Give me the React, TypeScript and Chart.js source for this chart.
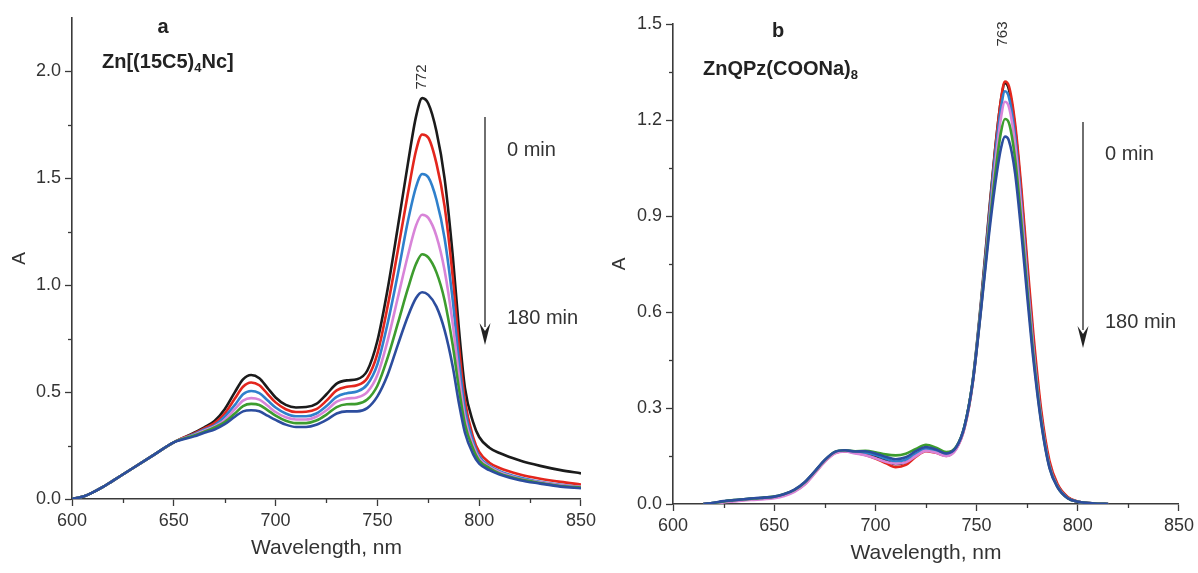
import { useEffect, useRef } from "react";
import { Chart, registerables } from "chart.js";
Chart.register(...registerables);

// ---------------- data ----------------
const SERIES_NAMES = ["spectrum 1 (0 min)", "spectrum 2", "spectrum 3", "spectrum 4", "spectrum 5", "spectrum 6 (180 min)"];
const COLORS = ["#1b1b1b", "#e3261d", "#2f80cc", "#d884d8", "#3d9c2e", "#2c4d9e"];

// Panel a: Zn[(15C5)4Nc]
const WL_A = [600, 605, 610, 615, 620, 630, 640, 650, 660, 665, 670, 675, 680, 684, 688, 692, 696, 700, 705, 710, 715, 720, 725, 730, 735, 740, 745, 750, 755, 760, 765, 769, 772, 775, 779, 783, 787, 790, 793, 797, 800, 805, 810, 820, 830, 840, 850];
const A_S1 = [0.0, 0.01, 0.03, 0.055, 0.085, 0.145, 0.205, 0.265, 0.31, 0.335, 0.365, 0.42, 0.5, 0.56, 0.58, 0.565, 0.52, 0.475, 0.44, 0.428, 0.43, 0.445, 0.49, 0.54, 0.555, 0.56, 0.6, 0.74, 0.98, 1.27, 1.57, 1.79, 1.875, 1.85, 1.72, 1.5, 1.14, 0.8, 0.52, 0.36, 0.29, 0.24, 0.215, 0.18, 0.155, 0.135, 0.12];
const A_S2 = [0.0, 0.01, 0.03, 0.055, 0.085, 0.145, 0.205, 0.265, 0.307, 0.33, 0.355, 0.4, 0.47, 0.525, 0.545, 0.532, 0.492, 0.452, 0.42, 0.407, 0.408, 0.42, 0.46, 0.508, 0.525, 0.532, 0.565, 0.68, 0.9, 1.16, 1.43, 1.63, 1.705, 1.69, 1.57, 1.37, 1.04, 0.72, 0.46, 0.29, 0.22, 0.17, 0.145, 0.115, 0.095, 0.08, 0.068];
const A_S3 = [0.0, 0.01, 0.03, 0.055, 0.085, 0.145, 0.205, 0.265, 0.303, 0.325, 0.345, 0.385, 0.44, 0.49, 0.505, 0.495, 0.462, 0.428, 0.4, 0.387, 0.387, 0.4, 0.435, 0.478, 0.495, 0.503, 0.535, 0.63, 0.82, 1.05, 1.3, 1.46, 1.52, 1.505, 1.4, 1.22, 0.93, 0.65, 0.42, 0.27, 0.2, 0.155, 0.13, 0.1, 0.08, 0.066, 0.056];
const A_S4 = [0.0, 0.01, 0.03, 0.055, 0.085, 0.145, 0.205, 0.265, 0.3, 0.32, 0.34, 0.37, 0.42, 0.46, 0.472, 0.465, 0.437, 0.407, 0.382, 0.372, 0.372, 0.385, 0.415, 0.455, 0.47, 0.475, 0.5, 0.58, 0.74, 0.94, 1.14, 1.28, 1.33, 1.315, 1.23, 1.07, 0.82, 0.58, 0.38, 0.25, 0.19, 0.15, 0.125, 0.095, 0.078, 0.064, 0.056];
const A_S5 = [0.0, 0.01, 0.03, 0.055, 0.085, 0.145, 0.205, 0.265, 0.297, 0.315, 0.335, 0.36, 0.4, 0.435, 0.445, 0.44, 0.416, 0.39, 0.366, 0.355, 0.355, 0.367, 0.395, 0.43, 0.443, 0.445, 0.465, 0.53, 0.66, 0.82, 0.985, 1.1, 1.145, 1.13, 1.06, 0.93, 0.72, 0.52, 0.35, 0.235, 0.18, 0.145, 0.12, 0.092, 0.075, 0.061, 0.053];
const A_S6 = [0.0, 0.01, 0.03, 0.055, 0.085, 0.145, 0.205, 0.265, 0.293, 0.31, 0.325, 0.35, 0.385, 0.41, 0.415, 0.41, 0.39, 0.37, 0.348, 0.337, 0.337, 0.347, 0.37, 0.4, 0.41, 0.41, 0.425, 0.48, 0.58, 0.72, 0.855, 0.94, 0.967, 0.955, 0.9, 0.79, 0.62, 0.45, 0.31, 0.21, 0.165, 0.135, 0.115, 0.088, 0.072, 0.058, 0.05];

// Panel b: ZnQPz(COONa)8
const WL_B = [615, 620, 625, 630, 635, 640, 645, 650, 655, 660, 665, 670, 675, 680, 685, 690, 695, 700, 705, 710, 715, 720, 725, 730, 735, 740, 744, 748, 752, 756, 759, 762, 764, 766, 769, 772, 775, 778, 782, 786, 790, 795, 800, 805, 810, 815];
const B_S1 = [0, 0.003, 0.008, 0.011, 0.014, 0.017, 0.019, 0.022, 0.03, 0.043, 0.066, 0.1, 0.136, 0.161, 0.166, 0.162, 0.158, 0.15, 0.137, 0.124, 0.13, 0.153, 0.168, 0.162, 0.152, 0.176, 0.24, 0.38, 0.62, 0.9, 1.1, 1.26, 1.315, 1.295, 1.175, 0.975, 0.735, 0.51, 0.275, 0.125, 0.058, 0.02, 0.007, 0.003, 0.001, 0];
const B_S2 = [0, 0.002, 0.007, 0.01, 0.013, 0.016, 0.018, 0.021, 0.028, 0.04, 0.062, 0.097, 0.133, 0.159, 0.165, 0.16, 0.153, 0.142, 0.128, 0.115, 0.122, 0.148, 0.165, 0.16, 0.15, 0.174, 0.238, 0.375, 0.61, 0.89, 1.095, 1.262, 1.32, 1.305, 1.19, 0.995, 0.76, 0.535, 0.29, 0.135, 0.062, 0.022, 0.008, 0.003, 0.001, 0];
const B_S3 = [0, 0.003, 0.008, 0.011, 0.014, 0.017, 0.019, 0.022, 0.03, 0.043, 0.066, 0.1, 0.136, 0.162, 0.167, 0.163, 0.16, 0.153, 0.142, 0.133, 0.138, 0.157, 0.172, 0.166, 0.156, 0.178, 0.242, 0.38, 0.61, 0.88, 1.08, 1.235, 1.29, 1.27, 1.15, 0.95, 0.715, 0.495, 0.265, 0.12, 0.055, 0.019, 0.007, 0.003, 0.001, 0];
const B_S4 = [0, 0.001, 0.005, 0.008, 0.011, 0.013, 0.015, 0.018, 0.025, 0.038, 0.06, 0.095, 0.132, 0.158, 0.164, 0.158, 0.152, 0.143, 0.132, 0.126, 0.13, 0.15, 0.166, 0.16, 0.15, 0.172, 0.236, 0.372, 0.6, 0.86, 1.05, 1.205, 1.257, 1.24, 1.125, 0.93, 0.7, 0.485, 0.26, 0.118, 0.054, 0.019, 0.007, 0.003, 0.001, 0];
const B_S5 = [0, 0.003, 0.008, 0.012, 0.015, 0.017, 0.02, 0.023, 0.031, 0.044, 0.067, 0.101, 0.137, 0.163, 0.168, 0.165, 0.166, 0.162, 0.155, 0.152, 0.157, 0.172, 0.185, 0.176, 0.162, 0.18, 0.243, 0.378, 0.6, 0.85, 1.02, 1.16, 1.203, 1.19, 1.08, 0.89, 0.675, 0.47, 0.255, 0.115, 0.053, 0.018, 0.007, 0.003, 0.001, 0];
const B_S6 = [0, 0.004, 0.009, 0.012, 0.015, 0.018, 0.02, 0.023, 0.031, 0.045, 0.068, 0.102, 0.138, 0.163, 0.168, 0.164, 0.165, 0.158, 0.148, 0.14, 0.146, 0.165, 0.178, 0.17, 0.158, 0.178, 0.242, 0.376, 0.595, 0.835, 0.99, 1.11, 1.148, 1.135, 1.035, 0.855, 0.65, 0.455, 0.25, 0.113, 0.052, 0.018, 0.007, 0.003, 0.001, 0];

// axis ticks
const X_MIN = 600, X_MAX = 850, X_STEP = 50;
const X_MINOR = [625, 675, 725, 775, 825];
const YA_MAX = 2.25, YA_STEP = 0.5;
const YA_MINOR = [0.25, 0.75, 1.25, 1.75];
const YB_MAX = 1.5, YB_STEP = 0.3;
const YB_MINOR = [0.15, 0.45, 0.75, 1.05, 1.35];

const PEAK_A = 772;
const PEAK_B = 763;

// ---------------- styling ----------------
const FONT = "'Liberation Sans', Arial, Helvetica, sans-serif";
const TEXT = "#333333";
const AXIS = "#3a3a3a";

type Part = { t: string; sub?: boolean };

function drawParts(ctx: CanvasRenderingContext2D, parts: Part[], left: number, cy: number, size: number) {
  let x = left;
  ctx.textAlign = "left";
  ctx.textBaseline = "middle";
  for (const p of parts) {
    if (p.sub) {
      ctx.font = `bold ${Math.round(size * 0.65)}px ${FONT}`;
      ctx.fillText(p.t, x, cy + size * 0.3);
    } else {
      ctx.font = `bold ${size}px ${FONT}`;
      ctx.fillText(p.t, x, cy);
    }
    x += ctx.measureText(p.t).width;
  }
}

type Spec = {
  xMinor: number[];
  yMinor: number[];
  letter: string;
  letterPos: [number, number];
  name: Part[];
  namePos: [number, number];
  peak: number;
  peakY: number;
  arrowX: number;
  arrowTop: number;
  arrowBottom: number;
  t0Y: number;
  t1Y: number;
};

function makePlugin(spec: Spec) {
  return {
    id: "annot",
    afterDraw(chart: any) {
      const ctx: CanvasRenderingContext2D = chart.ctx;
      const xs = chart.scales.x;
      const ys = chart.scales.y;
      ctx.save();
      // minor ticks
      ctx.strokeStyle = AXIS;
      ctx.lineWidth = 1.3;
      for (const v of spec.xMinor) {
        const px = Math.round(xs.getPixelForValue(v)) + 0.5;
        ctx.beginPath();
        ctx.moveTo(px, ys.bottom);
        ctx.lineTo(px, ys.bottom + 4);
        ctx.stroke();
      }
      for (const v of spec.yMinor) {
        const py = Math.round(ys.getPixelForValue(v)) + 0.5;
        ctx.beginPath();
        ctx.moveTo(xs.left - 4, py);
        ctx.lineTo(xs.left, py);
        ctx.stroke();
      }
      ctx.fillStyle = "#222";
      // panel letter
      ctx.font = `bold 20px ${FONT}`;
      ctx.textAlign = "center";
      ctx.textBaseline = "middle";
      ctx.fillText(spec.letter, spec.letterPos[0], spec.letterPos[1]);
      // compound name
      drawParts(ctx, spec.name, spec.namePos[0], spec.namePos[1], 20);
      // peak label (rotated)
      const px = xs.getPixelForValue(spec.peak);
      ctx.save();
      ctx.translate(px, spec.peakY);
      ctx.rotate(-Math.PI / 2);
      ctx.font = `15px ${FONT}`;
      ctx.fillStyle = TEXT;
      ctx.textAlign = "center";
      ctx.textBaseline = "middle";
      ctx.fillText(String(spec.peak), 0, 0);
      ctx.restore();
      // arrow
      ctx.strokeStyle = "#333";
      ctx.fillStyle = "#222";
      ctx.lineWidth = 1.4;
      ctx.beginPath();
      ctx.moveTo(spec.arrowX, spec.arrowTop);
      ctx.lineTo(spec.arrowX, spec.arrowBottom - 18);
      ctx.stroke();
      ctx.beginPath();
      ctx.moveTo(spec.arrowX - 5.5, spec.arrowBottom - 22);
      ctx.lineTo(spec.arrowX, spec.arrowBottom - 14);
      ctx.lineTo(spec.arrowX + 5.5, spec.arrowBottom - 22);
      ctx.lineTo(spec.arrowX, spec.arrowBottom);
      ctx.closePath();
      ctx.fill();
      // time labels
      ctx.fillStyle = TEXT;
      ctx.font = `20px ${FONT}`;
      ctx.textAlign = "left";
      ctx.textBaseline = "middle";
      ctx.fillText("0 min", spec.arrowX + 22, spec.t0Y);
      ctx.fillText("180 min", spec.arrowX + 22, spec.t1Y);
      ctx.restore();
    },
  };
}

function buildConfig(
  wl: number[],
  series: number[][],
  yMax: number,
  yStep: number,
  yWidth: number,
  xHeight: number,
  pad: { top: number; right: number },
  titleBottom: number,
  spec: Spec
): any {
  return {
    type: "line",
    data: {
      datasets: series.map((s, i) => ({
        label: SERIES_NAMES[i],
        data: wl.map((w, j) => ({ x: w, y: s[j] })),
        borderColor: COLORS[i],
        borderWidth: 2.6,
        pointRadius: 0,
        fill: false,
        cubicInterpolationMode: "monotone",
        order: series.length - 1 - i,
      })),
    },
    options: {
      animation: false,
      responsive: false,
      devicePixelRatio: 1,
      layout: { padding: { top: pad.top, right: pad.right, left: 0, bottom: 0 } },
      plugins: { legend: { display: false }, tooltip: { enabled: false } },
      scales: {
        x: {
          type: "linear",
          min: X_MIN,
          max: X_MAX,
          ticks: { stepSize: X_STEP, color: TEXT, font: { family: FONT, size: 18 }, padding: 4, maxRotation: 0 },
          grid: { display: true, drawOnChartArea: false, drawTicks: true, tickLength: 7, tickColor: AXIS, tickWidth: 1.3 },
          border: { display: true, color: AXIS, width: 1.6 },
          title: {
            display: true,
            text: "Wavelength, nm",
            color: TEXT,
            font: { family: FONT, size: 21 },
            padding: { top: 0, bottom: titleBottom },
          },
          afterFit: (s: any) => {
            s.height = xHeight;
          },
        },
        y: {
          type: "linear",
          min: 0,
          max: yMax,
          ticks: {
            stepSize: yStep,
            includeBounds: false,
            color: TEXT,
            font: { family: FONT, size: 18 },
            padding: 4,
            callback: (v: any) => Number(v).toFixed(1),
          },
          grid: { display: true, drawOnChartArea: false, drawTicks: true, tickLength: 7, tickColor: AXIS, tickWidth: 1.3 },
          border: { display: true, color: AXIS, width: 1.6 },
          title: {
            display: true,
            text: "A",
            color: TEXT,
            font: { family: FONT, size: 19 },
            padding: { top: 8.6, bottom: 0 },
          },
          afterFit: (s: any) => {
            s.width = yWidth;
          },
        },
      },
    },
    plugins: [makePlugin(spec)],
  };
}

export default function App() {
  const refA = useRef<HTMLCanvasElement>(null);
  const refB = useRef<HTMLCanvasElement>(null);

  useEffect(() => {
    const specA: Spec = {
      xMinor: X_MINOR,
      yMinor: YA_MINOR,
      letter: "a",
      letterPos: [163, 27],
      name: [{ t: "Zn[(15C5)" }, { t: "4", sub: true }, { t: "Nc]" }],
      namePos: [102, 62],
      peak: PEAK_A,
      peakY: 77,
      arrowX: 485,
      arrowTop: 117,
      arrowBottom: 345,
      t0Y: 150,
      t1Y: 318,
    };
    const specB: Spec = {
      xMinor: X_MINOR,
      yMinor: YB_MINOR,
      letter: "b",
      letterPos: [178, 31],
      name: [{ t: "ZnQPz(COONa)" }, { t: "8", sub: true }],
      namePos: [103, 69],
      peak: PEAK_B,
      peakY: 34,
      arrowX: 483,
      arrowTop: 122,
      arrowBottom: 348,
      t0Y: 154,
      t1Y: 322,
    };
    const chartA = new Chart(
      refA.current as HTMLCanvasElement,
      buildConfig(WL_A, [A_S1, A_S2, A_S3, A_S4, A_S5, A_S6], YA_MAX, YA_STEP, 72, 74, { top: 18, right: 19 }, 12.4, specA)
    );
    const chartB = new Chart(
      refB.current as HTMLCanvasElement,
      buildConfig(WL_B, [B_S1, B_S2, B_S3, B_S4, B_S5, B_S6], YB_MAX, YB_STEP, 73, 69, { top: 24, right: 16 }, 7.4, specB)
    );
    return () => {
      chartA.destroy();
      chartB.destroy();
    };
  }, []);

  return (
    <div style={{ position: "fixed", left: 0, top: 0, width: 1198, height: 573, background: "#ffffff", overflow: "hidden" }}>
      <canvas ref={refA} width={600} height={573} style={{ position: "absolute", left: 0, top: 0, width: 600, height: 573 }} />
      <canvas ref={refB} width={598} height={573} style={{ position: "absolute", left: 600, top: 0, width: 598, height: 573 }} />
    </div>
  );
}
